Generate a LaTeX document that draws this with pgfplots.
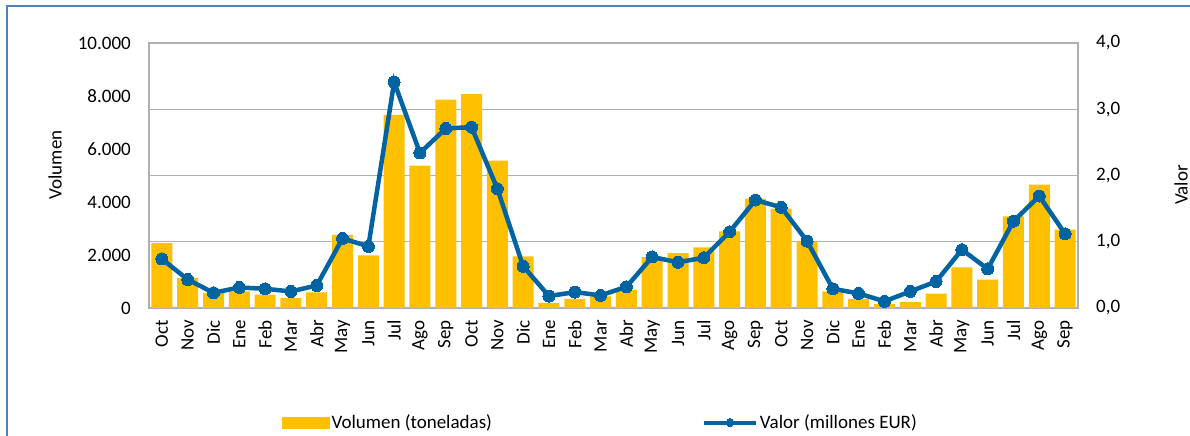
\documentclass[border=0pt]{standalone}
\usepackage{pgfplots}
\pgfplotsset{compat=1.18}
\usepackage{fontspec}
\setmainfont{Carlito}
\definecolor{barY}{HTML}{FFC000}
\definecolor{lineB}{HTML}{0064A2}
\definecolor{gridG}{HTML}{B0B0B0}
\definecolor{frameB}{HTML}{4F81BD}
\pgfplotsset{
  mybarleg/.style={legend image code/.code={\fill[barY] (0bp,-5.5bp) rectangle (47bp,5.5bp);}},
  mylineleg/.style={legend image code/.code={\draw[##1, mark size=4bp, line width=4bp, mark repeat=2, mark phase=2] plot coordinates {(0bp,0bp)(26bp,0bp)(52bp,0bp)};}},
}
\begin{document}
\fontsize{19bp}{23bp}\selectfont
\begin{tikzpicture}
\begin{axis}[
  at={(149bp,128bp)}, anchor=south west,
  scale only axis, width=929bp, height=265bp,
  xmin=-0.5, xmax=35.5, ymin=0, ymax=10000,
  xtick={0,...,35},
  xticklabels={Oct,Nov,Dic,Ene,Feb,Mar,Abr,May,Jun,Jul,Ago,Sep,Oct,Nov,Dic,Ene,Feb,Mar,Abr,May,Jun,Jul,Ago,Sep,Oct,Nov,Dic,Ene,Feb,Mar,Abr,May,Jun,Jul,Ago,Sep},
  xticklabel style={rotate=90, anchor=east, inner sep=0pt},
  xticklabel shift=12bp,
  ytick={0,2000,4000,6000,8000,10000},
  yticklabels={0,2.000,4.000,6.000,8.000,10.000},
  yticklabel style={inner sep=0pt},
  yticklabel shift=18bp,
  extra y ticks={2500,5000,7500},
  extra y tick labels={},
  extra y tick style={grid=major},
  major grid style={draw=gridG, line width=1.3bp},
  major tick length=0pt,
  axis line style={draw=gridG, line width=1.3bp},
  scaled y ticks=false,
]
\addplot[ybar, bar width=21bp, fill=barY, draw=none] coordinates {
(0,2450)(1,1130)(2,565)(3,630)(4,500)(5,377)(6,590)(7,2760)(8,1985)(9,7290)(10,5370)(11,7860)
(12,8070)(13,5560)(14,1950)(15,190)(16,340)(17,440)(18,690)(19,1920)(20,2075)(21,2290)(22,2890)(23,4125)
(24,3750)(25,2515)(26,630)(27,340)(28,150)(29,226)(30,540)(31,1535)(32,1070)(33,3460)(34,4655)(35,2955)
};
\end{axis}
\begin{axis}[
  at={(149bp,128bp)}, anchor=south west,
  scale only axis, width=929bp, height=265bp,
  xmin=-0.5, xmax=35.5, ymin=0, ymax=4,
  axis x line=none,
  axis y line*=right,
  ytick={0,1,2,3,4},
  yticklabels={{0,0},{1,0},{2,0},{3,0},{4,0}},
  yticklabel style={inner sep=0pt, anchor=west},
  yticklabel shift=18bp,
  major tick length=0pt,
  axis line style={draw=gridG, line width=1.3bp},
  clip=false,
  legend style={at={(rel axis cs:0,0)}, anchor=west, xshift=133bp, yshift=-114.5bp,
    draw=none, fill=none, inner sep=0pt,
    nodes={inner sep=2bp},
    /tikz/every even column/.append style={column sep=208bp}},
  legend columns=2,
  legend cell align=left,
]
\addlegendimage{mybarleg}
\addlegendentry{Volumen (toneladas)}
\addplot[color=lineB, line width=4.5bp, mark=*, mark size=6bp, mark options={fill=lineB, draw=lineB, line width=0pt}, mylineleg]
coordinates {
(0,0.74)(1,0.43)(2,0.23)(3,0.31)(4,0.29)(5,0.25)(6,0.34)(7,1.05)(8,0.93)(9,3.41)(10,2.34)(11,2.71)
(12,2.73)(13,1.80)(14,0.63)(15,0.18)(16,0.24)(17,0.19)(18,0.32)(19,0.77)(20,0.69)(21,0.76)(22,1.15)(23,1.63)
(24,1.52)(25,1.01)(26,0.29)(27,0.22)(28,0.10)(29,0.25)(30,0.40)(31,0.88)(32,0.59)(33,1.31)(34,1.69)(35,1.12)
};
\addlegendentry{Valor (millones EUR)}
\end{axis}
\node[rotate=90] at (55bp,271bp) {Volumen};
\node[rotate=90] at (1181bp,251bp) {Valor};
\draw[frameB, line width=2.2bp] (7bp,0bp) -- (7bp,430bp) -- (1190bp,430bp);
\pgfresetboundingbox
\useasboundingbox (0bp,0bp) rectangle (1190bp,436bp);
\end{tikzpicture}
\end{document}
